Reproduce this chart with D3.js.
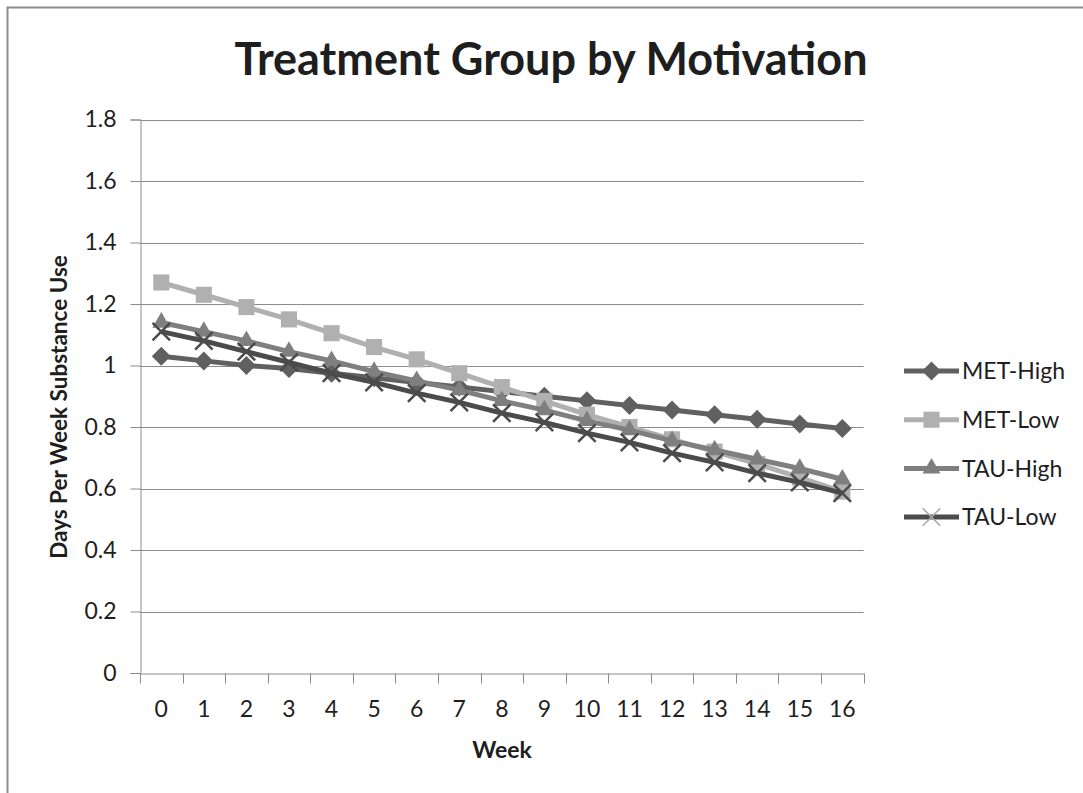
<!DOCTYPE html>
<html>
<head>
<meta charset="utf-8">
<script src="https://cdn.jsdelivr.net/npm/d3@7"></script>
<style>
  body { margin: 0; background: #fff; }
  text { font-family: Lato, "Open Sans", sans-serif; fill: #1e1e1e; }
</style>
</head>
<body>
<svg id="chart" width="1083" height="793"></svg>
<script>
// data
var weeks = d3.range(0, 17);
var yTicks = [0, 0.2, 0.4, 0.6, 0.8, 1, 1.2, 1.4, 1.6, 1.8];
var seriesNames = ["MET-High", "MET-Low", "TAU-High", "TAU-Low"];
var metHigh = [1.03, 1.015, 1.0, 0.99, 0.975, 0.96, 0.945, 0.93, 0.915, 0.90, 0.885, 0.87, 0.855, 0.84, 0.825, 0.81, 0.795];
var metLow  = [1.27, 1.23, 1.19, 1.15, 1.105, 1.06, 1.02, 0.975, 0.93, 0.885, 0.84, 0.80, 0.76, 0.72, 0.68, 0.635, 0.59];
var tauHigh = [1.14, 1.11, 1.08, 1.045, 1.015, 0.98, 0.95, 0.92, 0.885, 0.855, 0.82, 0.79, 0.755, 0.725, 0.695, 0.665, 0.63];
var tauLow  = [1.11, 1.08, 1.045, 1.01, 0.975, 0.945, 0.91, 0.88, 0.845, 0.815, 0.78, 0.75, 0.715, 0.685, 0.65, 0.62, 0.585];

var seriesValues = [metHigh, metLow, tauHigh, tauLow];
var colors = ["#606060", "#b0b0b0", "#7f7f7f", "#4b4b4b"];
var markers = [d3.symbolDiamond2, d3.symbolSquare2, d3.symbolTriangle2, d3.symbolX];
var markerSizes = [230, 330, 230, 200];

const svg = d3.select("#chart");

// outer frame (only left and top show)
svg.append("rect")
    .attr("x", 7.5).attr("y", 7.5)
    .attr("width", 1200).attr("height", 1000)
    .attr("fill", "none")
    .attr("stroke", "#8c8c8c")
    .attr("stroke-width", 2);

const x = d3.scaleBand()
    .domain(weeks)
    .range([140, 863.6]);

const y = d3.scaleLinear()
    .domain([0, 1.8])
    .range([673, 119.5]);

// gridlines
svg.append("g")
    .selectAll("line")
    .data(yTicks.slice(1))
    .join("line")
    .attr("x1", 140).attr("x2", 863.6)
    .attr("y1", function (d) { return Math.round(y(d)) + 0.5; })
    .attr("y2", function (d) { return Math.round(y(d)) + 0.5; })
    .attr("stroke", "#8c8c8c")
    .attr("stroke-width", 1);

// y axis
svg.append("g")
    .attr("transform", "translate(140.5,0)")
    .call(d3.axisLeft(y).tickValues(yTicks).tickSize(10).tickPadding(14)
        .tickFormat(function (d) { return d3.format("")(+d.toFixed(1)); }))
    .call(function (g) {
        g.select(".domain").attr("stroke", "#8c8c8c");
        g.selectAll(".tick line").attr("stroke", "#8c8c8c");
        g.selectAll(".tick text").attr("font-size", 23).attr("fill", "#1e1e1e")
            .attr("font-family", "Lato, sans-serif");
    });

// x axis
var xAxis = svg.append("g")
    .attr("transform", "translate(0," + (Math.round(y(0)) + 0.5) + ")")
    .call(d3.axisBottom(x).tickSize(0).tickPadding(27).tickSizeOuter(0))
    .call(function (g) {
        g.select(".domain").attr("stroke", "#8c8c8c");
        g.selectAll(".tick text").attr("font-size", 23).attr("fill", "#1e1e1e")
            .attr("font-family", "Lato, sans-serif");
    });

// category boundary ticks
xAxis.append("g")
    .selectAll("line")
    .data(weeks.concat([17]))
    .join("line")
    .attr("x1", function (d) { return Math.round(140 + d * x.step()) + 0.5; })
    .attr("x2", function (d) { return Math.round(140 + d * x.step()) + 0.5; })
    .attr("y1", 0).attr("y2", 10)
    .attr("stroke", "#8c8c8c");

// lines + markers
var line = d3.line()
    .x(function (d, i) { return x(weeks[i]) + x.bandwidth() / 2; })
    .y(function (d) { return y(d); });

seriesValues.forEach(function (vals, s) {
    var g = svg.append("g").attr("class", "series");
    g.append("path")
        .datum(vals)
        .attr("d", line)
        .attr("fill", "none")
        .attr("stroke", colors[s])
        .attr("stroke-width", 5)
        .attr("stroke-linejoin", "round");

    g.selectAll("path.marker")
        .data(vals)
        .join("path")
        .attr("class", "marker")
        .attr("transform", function (d, i) {
            return "translate(" + (x(weeks[i]) + x.bandwidth() / 2) + "," + y(d) + ")";
        })
        .attr("d", d3.symbol().type(markers[s]).size(markerSizes[s]))
        .attr("fill", s == 3 ? "none" : colors[s])
        .attr("stroke", colors[s])
        .attr("stroke-width", s == 3 ? 2.5 : 0);
});

// legend
var legend = svg.append("g");
seriesNames.forEach(function (name, s) {
    var ly = 371 + s * 48.7;
    legend.append("line")
        .attr("x1", 904).attr("x2", 959)
        .attr("y1", ly).attr("y2", ly)
        .attr("stroke", colors[s]).attr("stroke-width", 5);
    legend.append("path")
        .attr("transform", "translate(931.5," + ly + ")")
        .attr("d", d3.symbol().type(markers[s]).size(markerSizes[s]))
        .attr("fill", s == 3 ? "none" : colors[s])
        .attr("stroke", s == 3 ? "#aaa" : colors[s])
        .attr("stroke-width", s == 3 ? 1.5 : 0);
    legend.append("text")
        .attr("x", 962).attr("y", ly)
        .attr("dy", "0.36em")
        .attr("font-size", 23)
        .text(name);
});

// titles
svg.append("text")
    .attr("x", 551).attr("y", 75)
    .attr("text-anchor", "middle")
    .attr("font-size", 45)
    .attr("font-weight", "bold")
    .attr("fill", "#000")
    .text("Treatment Group by Motivation");

svg.append("text")
    .attr("x", 502).attr("y", 758)
    .attr("text-anchor", "middle")
    .attr("font-size", 23)
    .attr("font-weight", "bold")
    .text("Week");

svg.append("text")
    .attr("transform", "translate(67,407) rotate(-90)")
    .attr("text-anchor", "middle")
    .attr("font-size", 22.5)
    .attr("font-weight", "bold")
    .text("Days Per Week Substance Use");
</script>
</body>
</html>
